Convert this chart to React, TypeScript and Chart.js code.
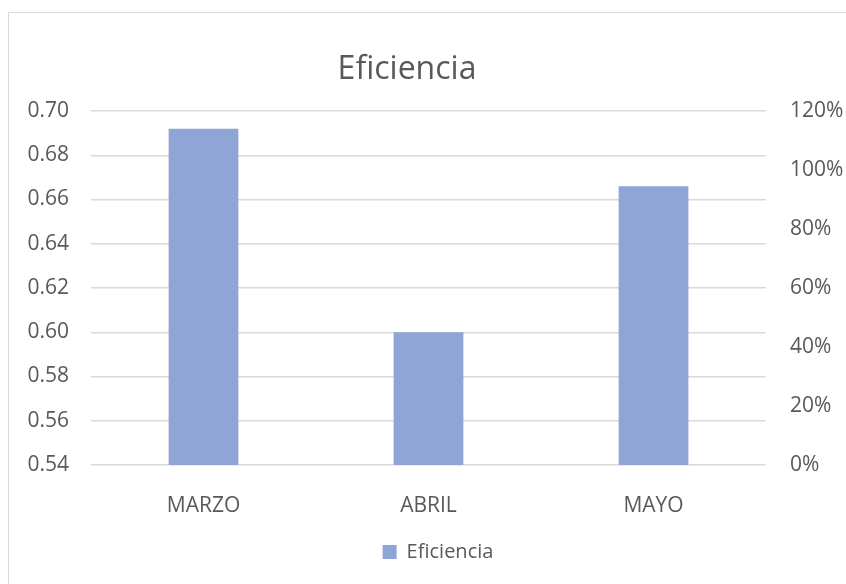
import React, { useEffect, useRef } from "react";
import { Chart, registerables } from "chart.js";

Chart.register(...registerables);

const categories = ["MARZO", "ABRIL", "MAYO"];
const eficiencia = [0.692, 0.6, 0.666];
const leftTicks = { min: 0.54, max: 0.7, step: 0.02 };
const rightTicks = { min: 0, max: 1.2, step: 0.2 };
const titleText = "Eficiencia";

const TEXT = "#595959";
const GRID = "#D9D9D9";
const BAR = "#8FA5D5";
const FONT = "'Open Sans', sans-serif";

// Title centred on the chart frame (which is narrower than the canvas),
// and the legend nudged under the plot area.
const frameDecor = {
  id: "frameDecor",
  afterLayout(chart: any) {
    const lg = chart.legend;
    if (lg) {
      lg.left += 15;
      lg.right += 15;
    }
  },
  afterDraw(chart: any) {
    const ctx = chart.ctx;
    ctx.save();
    ctx.fillStyle = TEXT;
    ctx.font = `32px ${FONT}`;
    ctx.textAlign = "center";
    ctx.textBaseline = "alphabetic";
    ctx.fillText(titleText, 407, 79);
    ctx.restore();
  },
};

export default function App() {
  const canvasRef = useRef<HTMLCanvasElement | null>(null);

  useEffect(() => {
    if (!canvasRef.current) return;
    const chart = new Chart(canvasRef.current, {
      type: "bar",
      data: {
        labels: categories,
        datasets: [
          {
            label: "Eficiencia",
            data: eficiencia,
            backgroundColor: BAR,
            borderWidth: 0,
            yAxisID: "y",
            barPercentage: 0.31,
            categoryPercentage: 1,
          },
        ],
      },
      options: {
        responsive: false,
        animation: false,
        layout: { padding: { top: 111, bottom: 12, left: 0, right: 0 } },
        plugins: {
          title: { display: false },
          legend: {
            display: true,
            position: "bottom",
            labels: {
              color: TEXT,
              font: { family: FONT, size: 20 },
              boxWidth: 14,
              boxHeight: 14,
              padding: 10,
            },
          },
          tooltip: { enabled: false },
        },
        scales: {
          x: {
            grid: { display: false },
            border: { display: false },
            ticks: {
              color: TEXT,
              font: { family: FONT, size: 21 },
              padding: 20,
            },
            afterFit: (scale: any) => {
              scale.height = 67;
            },
          },
          y: {
            position: "left",
            min: leftTicks.min,
            max: leftTicks.max,
            grid: { color: GRID, lineWidth: 1.5, drawTicks: false },
            border: { display: false },
            ticks: {
              stepSize: leftTicks.step,
              color: TEXT,
              font: { family: FONT, size: 21 },
              padding: 22,
              callback: (v: any) => Number(v).toFixed(2),
            },
            afterFit: (scale: any) => {
              scale.width = 91;
            },
          },
          y1: {
            position: "right",
            min: rightTicks.min,
            max: rightTicks.max,
            grid: { drawOnChartArea: false, drawTicks: false },
            border: { display: false },
            ticks: {
              stepSize: rightTicks.step,
              color: TEXT,
              font: { family: FONT, size: 21 },
              padding: 24,
              callback: (v: any) => Math.round(Number(v) * 100) + "%",
            },
            afterFit: (scale: any) => {
              scale.width = 80;
            },
          },
        },
      },
      plugins: [frameDecor],
    });
    return () => chart.destroy();
  }, []);

  return (
    <div
      style={{
        position: "fixed",
        left: 0,
        top: 0,
        width: 846,
        height: 584,
        overflow: "hidden",
        background: "#ffffff",
      }}
    >
      <div
        style={{
          position: "absolute",
          left: 8,
          top: 12,
          width: 860,
          height: 600,
          border: `1px solid ${GRID}`,
          boxSizing: "border-box",
        }}
      />
      <canvas
        ref={canvasRef}
        width={846}
        height={584}
        style={{ position: "absolute", left: 0, top: 0, width: 846, height: 584 }}
      />
    </div>
  );
}
